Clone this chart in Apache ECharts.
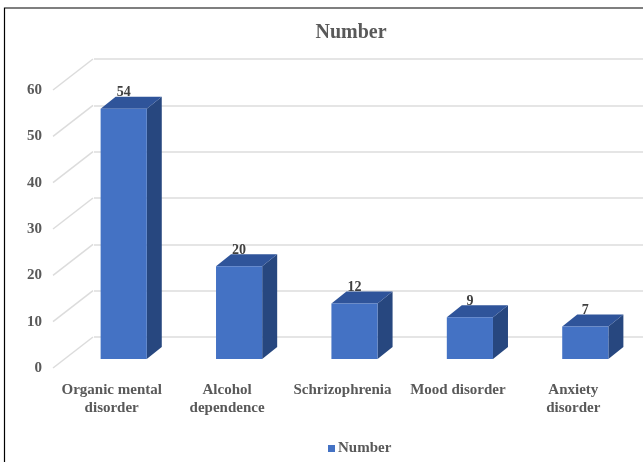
<!DOCTYPE html>
<html>
<head>
<meta charset="utf-8">
<script src="https://cdn.jsdelivr.net/npm/echarts@6/dist/echarts.min.js"></script>
<style>
  html, body { margin: 0; padding: 0; background: #fff; }
  #main { width: 643px; height: 462px; }
</style>
</head>
<body>
<div id="main"></div>
<script>
var categories = ["Organic mental\ndisorder", "Alcohol\ndependence", "Schrizophrenia", "Mood disorder", "Anxiety\ndisorder"];
var values = [54, 20, 12, 9, 7];
var yTicks = [0, 10, 20, 30, 40, 50, 60];

var FONT = "'Liberation Serif', 'DejaVu Serif', serif";
// fake 3d: front face shift and bar depth, in px
var FACE_DX = 12, FACE_DY = -9;
var DEPTH_DX = 15, DEPTH_DY = -12;
var WALL_DX = 40, WALL_DY = -31;

var myChart = echarts.init(document.getElementById("main"));

myChart.setOption({
  animation: false,
  backgroundColor: "#fff",
  title: {
    text: "Number",
    left: 346,
    textAlign: "center",
    top: 18,
    textStyle: { fontFamily: FONT, fontSize: 20, fontWeight: "bold", color: "#595959" }
  },
  legend: {
    left: 323,
    top: 436,
    data: ["Number"],
    icon: "rect",
    itemWidth: 7,
    itemHeight: 7,
    itemGap: 4,
    textStyle: { fontFamily: FONT, fontSize: 15, fontWeight: "bold", color: "#595959", padding: [0, 0, 0, -2] }
  },
  graphic: [
    {
      type: "rect",
      shape: { x: 4.5, y: 8, width: 700, height: 500 },
      style: { fill: "none", stroke: "#000", lineWidth: 1.2 },
      z: 100
    }
  ],
  grid: [
    { left: 54, right: 12, top: 90, bottom: 94 },   // front plane
    { left: 94, right: 0, top: 59, bottom: 125 }    // back wall
  ],
  xAxis: [
    {
      type: "category",
      gridIndex: 0,
      data: categories,
      axisLine: { show: false },
      axisTick: { show: false },
      axisLabel: {
        margin: 13,
        interval: 0,
        lineHeight: 18,
        fontFamily: FONT,
        fontSize: 15,
        fontWeight: "bold",
        color: "#595959"
      }
    },
    {
      type: "category",
      gridIndex: 1,
      data: categories,
      show: false
    }
  ],
  yAxis: [
    {
      type: "value",
      gridIndex: 0,
      min: 0,
      max: 60,
      interval: 10,
      axisLine: { show: false },
      axisTick: { show: false },
      splitLine: { show: false },
      axisLabel: {
        margin: 12,
        fontFamily: FONT,
        fontSize: 15,
        fontWeight: "bold",
        color: "#595959"
      }
    },
    {
      type: "value",
      gridIndex: 1,
      min: 0,
      max: 60,
      interval: 10,
      axisLine: { show: false },
      axisTick: { show: false },
      axisLabel: { show: false },
      splitLine: { show: true, lineStyle: { color: "#dcdcdc", width: 1.5 } }
    }
  ],
  series: [
    {
      // diagonal lines from front labels to back wall
      type: "custom",
      xAxisIndex: 0,
      yAxisIndex: 0,
      silent: true,
      z: 1,
      data: yTicks.map(function (t) { return [0, t]; }),
      encode: { x: 0, y: 1 },
      renderItem: function (params, api) {
        var cs = params.coordSys;
        var p = api.coord([0, api.value(1)]);
        var x0 = cs.x - 1;
        return {
          type: "line",
          shape: { x1: x0, y1: p[1], x2: x0 + WALL_DX, y2: p[1] + WALL_DY },
          style: { stroke: "#dcdcdc", lineWidth: 1.5 }
        };
      }
    },
    {
      name: "Number",
      type: "custom",
      xAxisIndex: 0,
      yAxisIndex: 0,
      z: 5,
      itemStyle: { color: "#4472C4" },
      data: values.map(function (v, i) { return [i, v]; }),
      encode: { x: 0, y: 1 },
      renderItem: function (params, api) {
        var top = api.coord([api.value(0), api.value(1)]);
        var base = api.coord([api.value(0), 0]);
        var w = api.size([1, 0])[0] * 0.4;
        var cx = top[0] + FACE_DX;
        var x0 = cx - w / 2, x1 = cx + w / 2;
        var yt = top[1] + FACE_DY, yb = base[1] + FACE_DY;
        return {
          type: "group",
          children: [
            {
              type: "polygon",
              shape: { points: [[x1, yt], [x1 + DEPTH_DX, yt + DEPTH_DY], [x1 + DEPTH_DX, yb + DEPTH_DY], [x1, yb]] },
              style: { fill: "#27477f" }
            },
            {
              type: "polygon",
              shape: { points: [[x0, yt], [x0 + DEPTH_DX, yt + DEPTH_DY], [x1 + DEPTH_DX, yt + DEPTH_DY], [x1, yt]] },
              style: { fill: "#2f549a" }
            },
            {
              type: "rect",
              shape: { x: x0, y: yt, width: w, height: yb - yt },
              style: { fill: "#4472C4" }
            },
            {
              type: "text",
              x: cx,
              y: yt - 16,
              style: {
                text: String(api.value(1)),
                fontFamily: FONT,
                fontSize: 14,
                fontWeight: "bold",
                fill: "#404040",
                align: "center",
                verticalAlign: "middle"
              }
            }
          ]
        };
      }
    }
  ]
});
</script>
</body>
</html>
